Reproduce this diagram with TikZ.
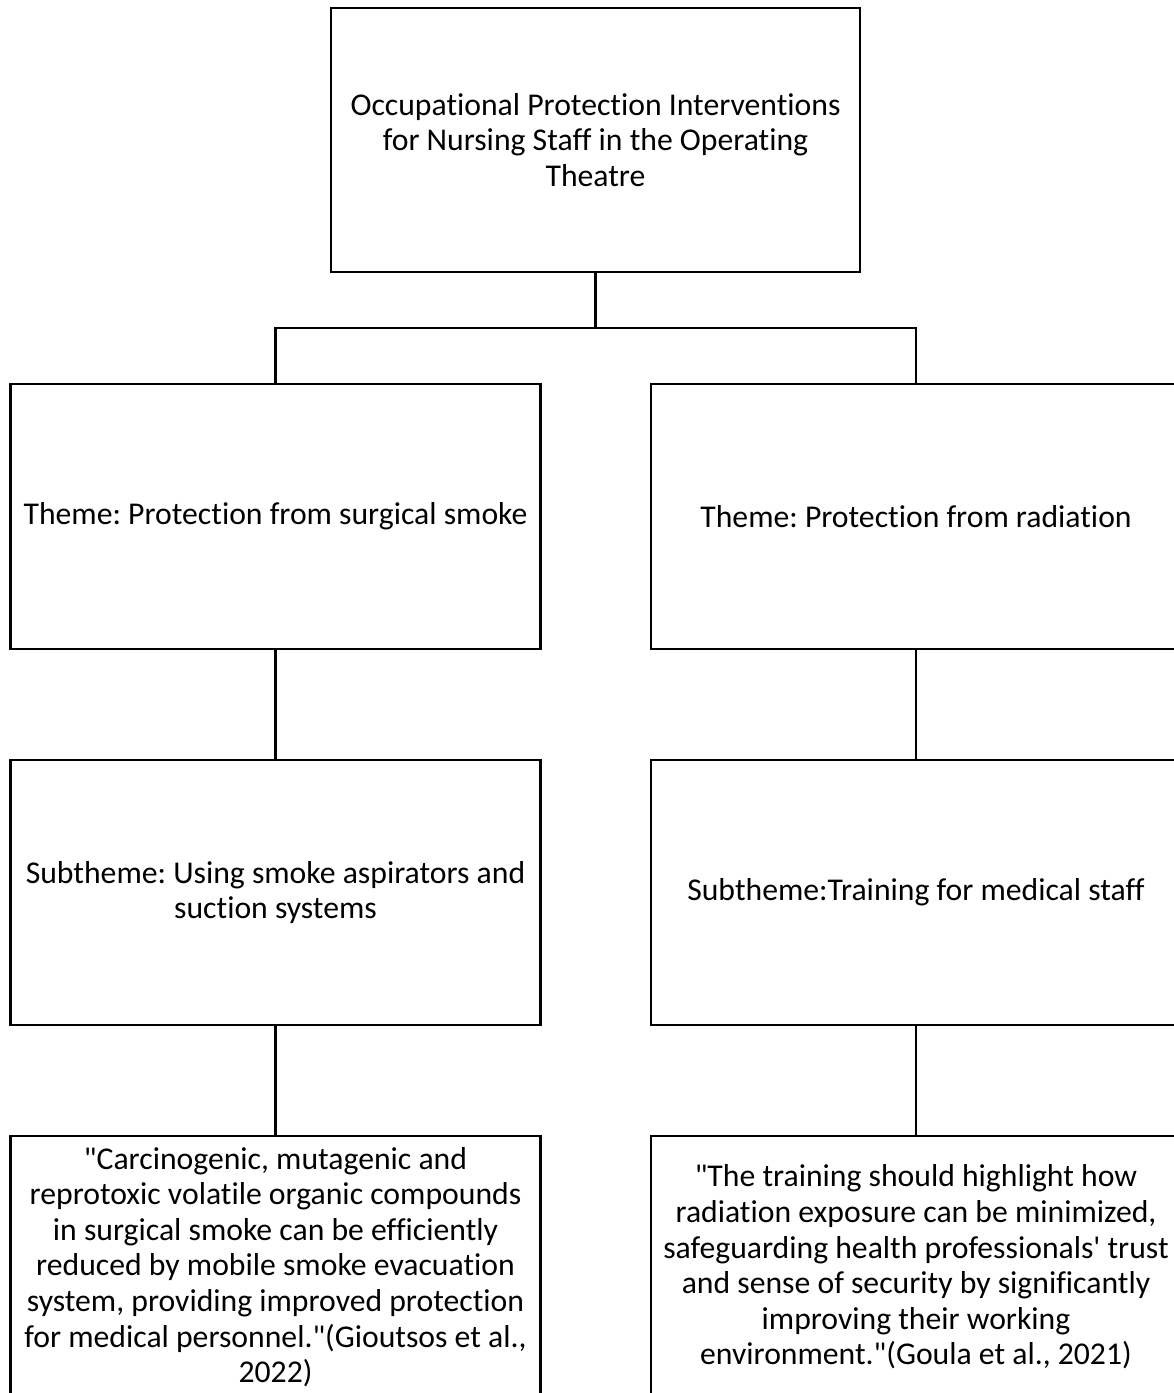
\documentclass[tikz,border=0pt]{standalone}
\usepackage{fontspec}
\setmainfont{Carlito}[Ligatures={NoCommon}]
\begin{document}
\frenchspacing
\begin{tikzpicture}[x=1pt,y=-1pt,
  box/.style={draw=black, line width=2.6pt, inner sep=0pt, align=center,
    minimum width=530pt, font=\fontsize{31.7}{35.6}\selectfont},
  conn/.style={draw=black, line width=2.6pt}]
\useasboundingbox[fill=white] (0,0) rectangle (1174,1393);
\node[box, minimum width=529pt, minimum height=264pt] (top) at (595.5,140)
  {Occupational Protection Interventions\\for Nursing Staff in the Operating\\Theatre};
\node[box, minimum height=265pt] (lt) at (275.5,516.5) {Theme: Protection from surgical smoke};
\node[box, minimum height=265pt] (rt) at (916,516.5) {Theme: Protection from radiation};
\node[box, minimum height=265pt] (ls) at (275.5,892.5) {Subtheme: Using smoke aspirators and\\suction systems};
\node[box, minimum height=265pt] (rs) at (916,892.5) {Subtheme:Training for medical staff};
\node[box, minimum height=262pt] (lb) at (275.5,1267)
  {\textquotedbl Carcinogenic, mutagenic and\\reprotoxic volatile organic compounds\\in surgical smoke can be efficiently\\reduced by mobile smoke evacuation\\system, providing improved protection\\for medical personnel.\textquotedbl(Gioutsos et al.,\\2022)};
\node[box, minimum height=262pt] (rb) at (916,1267)
  {\textquotedbl The training should highlight how\\radiation exposure can be minimized,\\safeguarding health professionals\textquotesingle\ trust\\and sense of security by significantly\\improving their working\\environment.\textquotedbl(Goula et al., 2021)};
\coordinate (bus) at (595.5,328);
\draw[conn] (top.south) -- (bus);
\draw[conn] (lt.north) |- (bus) -| (rt.north);
\draw[conn] (lt.south) -- (ls.north);
\draw[conn] (rt.south) -- (rs.north);
\draw[conn] (ls.south) -- (lb.north);
\draw[conn] (rs.south) -- (rb.north);
\end{tikzpicture}
\end{document}
